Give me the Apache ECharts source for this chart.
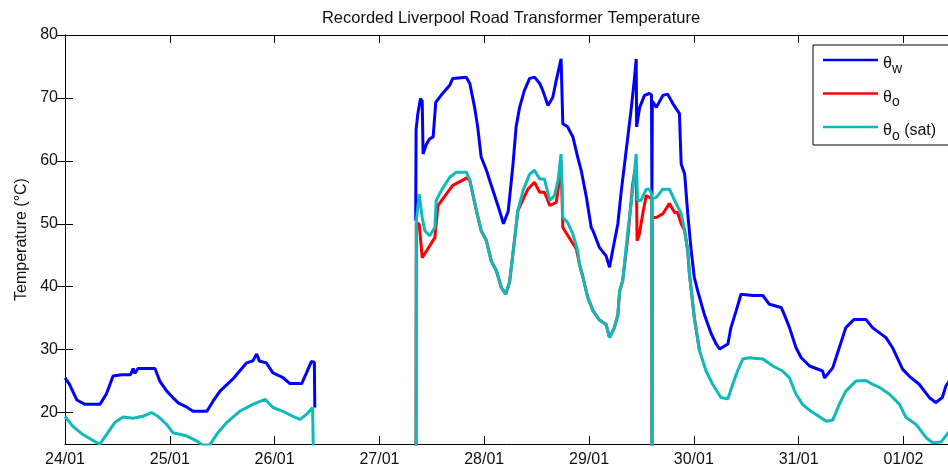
<!DOCTYPE html>
<html><head><meta charset="utf-8">
<script src="https://cdn.jsdelivr.net/npm/echarts@6/dist/echarts.min.js"></script>
<style>html,body{margin:0;padding:0;background:#fff}#c{width:948px;height:469px}</style>
</head><body><div id="c"></div>
<script>
const chartTitle = 'Recorded Liverpool Road Transformer Temperature';
const yAxisName = 'Temperature (°C)';
const dayLabels = ['24/01','25/01','26/01','27/01','28/01','29/01','30/01','31/01','01/02'];
const yTicks = [20,30,40,50,60,70,80];
const seriesNames = ['θw','θo','θo (sat)'];

// hours since 24/01 00:00 ; null = no data
const wHours = [0,1,2.7,4.6,8,9.5,11,13,15,15.6,16,16.7,20.6,21.7,23.3,24.8,26,27.8,29.3,32.5,33.9,35.5,38.4,41.6,43,43.9,44.5,46.1,47.6,49.2,50,51.5,54.2,55.3,56.4,57.1,57.2,
  68,
  80.3,80.4,80.8,81.4,81.8,82.0,82.8,83.5,84.3,84.9,86.2,88.1,88.8,91.9,92.7,93.8,94.5,95.3,96.5,98.0,99.5,100.4,101.5,102.6,103.3,104.1,105.2,106.4,107.5,108.7,109.4,110.6,111.7,112.5,113.6,114.0,115.1,116.3,117.4,118.2,119.4,120.5,120.9,122.4,123.9,124.7,125.4,126.6,127.4,128.5,129.7,130.4,130.8,130.9,131.6,132.7,133.8,134.3,134.4,134.5,135.4,136.9,138.0,139.2,140.7,141.1,141.9,142.6,143.4,144.1,144.9,146.4,148.0,149.1,149.9,151.8,152.5,153.7,154.8,157.5,159.8,161.3,164.0,164.7,165.9,167.4,168.6,170.5,173.5,173.9,175.8,177.3,178.8,180.7,183.4,184.9,188.0,189.5,191.8,193.3,195.6,197.9,199.4,200.9,201.7,202.5];
const wTemp = [25.5,24.5,22,21.3,21.3,23,25.8,26,26,27,26.2,27,27,25,23.4,22.3,21.5,20.9,20.2,20.2,21.8,23.4,25.3,27.9,28.2,29.3,28.2,27.9,26.3,25.8,25.5,24.6,24.6,26.3,28.1,28,20.8,
  null,
  50.5,65,67.5,69.9,69.5,61.1,62.7,63.5,63.8,69.3,70.5,72,73.1,73.3,72.3,68.5,65.4,60.6,58.5,55.3,52.1,50,52,59.5,65.4,68.5,71.2,73.1,73.3,72.3,71.2,68.8,70.1,72.8,76.2,65.9,65.4,63.8,60.6,58.5,54.2,49.4,48.9,46.2,44.9,43.1,45.7,50,55.3,61.6,68.5,73.1,76.2,65.4,68.5,70.4,70.7,70.5,54.5,69.5,68.5,70.4,70.6,69.1,67.5,59.5,57.9,51.6,45.7,41.5,39.3,35.6,32.5,30.9,30.1,30.9,33.5,36.2,38.8,38.6,38.6,37.2,36.7,35.6,33.5,30.3,28.7,27.4,26.6,25.5,27.1,30.3,33.5,34.8,34.8,33.5,31.9,30.3,26.9,25.8,24.5,22.4,21.6,22.4,24.2,25];

const oHours = [80.35,80.45,81.1,81.8,82.8,84.7,85.4,87.3,88.8,91.5,92.0,92.7,94.2,95.3,96.5,97.6,98.8,99.9,100.9,101.8,103.0,103.7,104.1,106.0,107.5,108.7,109.8,111.0,112.5,113.3,113.6,114.0,114.8,115.9,117.1,117.8,118.6,119.7,120.9,122.4,123.9,124.7,125.8,126.6,127.0,127.7,128.9,130.0,130.4,130.8,131.0,131.5,132.3,133.1,133.8,134.35,134.4,134.5,135.4,136.9,138.4,139.6,140.3,141.1,141.9,142.6,143.0,144.1,145.3];
const oTemp = [0,50,50,44.6,45.7,47.8,52.9,54.7,56.1,57.1,57.3,56.9,52.1,48.9,47.3,44.1,42.5,39.9,38.8,40.7,47.8,52.1,52.1,55.5,56.6,55,55,52.9,53.4,57.4,60,49.4,48.5,47.3,46,43.6,41.5,38.3,36.2,34.7,34,31.9,33.5,35.5,39.3,40.9,48,56.3,58,59,47.3,48.3,51.6,54.5,54.2,54,0,51,51,51.6,53.2,51.8,51.8,50,48.9,45.7,42,35.1,29.8];

const satHours = [0,1.8,4.1,7.3,8,9.5,11.4,13.3,15.6,17.8,19.8,21.3,23.3,24.7,27.8,30.1,31.6,33.2,34.7,37,40,43,45.8,47.6,49.9,52.2,53.8,55.3,56.7,57.1,57.2,
  68,
  80.35,80.45,81.1,81.8,82.4,83.5,84.7,85.0,86.2,88.1,89.6,91.9,92.7,94.2,95.3,96.5,97.6,98.8,99.9,100.9,101.8,103.0,103.7,104.9,106.4,107.5,108.7,109.8,111.0,112.1,112.9,113.6,114.0,115.1,116.3,117.4,117.8,118.6,119.7,120.9,122.4,123.9,124.7,125.8,126.6,127.0,127.7,128.9,130.0,130.8,131.1,131.9,133.1,133.8,134.35,134.4,134.5,135.4,136.9,138.4,139.6,141.1,141.9,142.6,143.0,144.1,145.3,146.8,148.3,150.2,151.8,152.9,154.0,155.2,156.7,159.8,162.1,164.3,165.9,167.4,168.9,170.8,172.0,174.3,175.8,177.3,178.8,181.1,183.4,184.9,186.5,188.8,191.1,192.6,194.9,197.2,198.7,200.6,201.7,202.5];
const satTemp = [19.4,17.8,16.5,15.2,15,16.5,18.4,19.3,19.1,19.4,20,19.4,18.1,16.8,16.3,15.5,14.8,14.9,16.5,18.4,20.2,21.3,22.1,20.8,20.2,19.4,18.9,19.7,20.8,20.8,0,
  null,
  0,50.5,54.7,51,48.9,48.1,49.4,53.7,55.3,57.4,58.2,58.2,56.9,52.1,48.9,47.3,44.1,42.5,39.9,38.8,40.7,47.8,52.1,55.3,57.9,58.5,57.1,57.1,53.7,54.5,56.9,61.1,51,50.2,48.4,45.7,43.6,41.5,38.3,36.2,34.7,34,31.9,33.5,35.5,39.3,40.9,48.9,55.3,61.1,53.7,53.7,55.5,55.5,54.7,0,54,54.2,55.5,55.5,53.7,51.6,48.9,45.7,42,35.1,29.8,26.6,24.5,22.4,22.2,24.5,26.6,28.5,28.7,28.5,27.4,26.6,25.5,22.9,21.3,20.2,19.7,18.6,18.8,21.3,23.4,25,25.1,24.5,24,22.9,21.3,19.2,18.1,16,15.2,15.3,16.3,17];

const colors = ['#0000ff','#ff0000','#10baba'];
function pairs(h, v) { return h.map((x, i) => [x, v[i]]); }
const font = 'Liberation Sans, Arial, Helvetica, sans-serif';
const legendText = {
  'θw': '{t|θ}{s|w}',
  'θo': '{t|θ}{s|o}',
  'θo (sat)': '{t|θ}{s|o}{t| (sat)}'
};

const chart = echarts.init(document.getElementById('c'), null, {renderer: 'canvas'});
const axisLineStyle = {color: '#000', width: 1};
chart.setOption({
  animation: false,
  backgroundColor: '#fff',
  title: {
    text: chartTitle, left: 506, top: 5, textAlign: 'center',
    textStyle: {fontSize: 16.5, fontWeight: 'normal', color: '#111', fontFamily: font}
  },
  grid: {left: 65, top: 35, right: -1, bottom: 25},
  legend: {
    orient: 'vertical', left: 813, top: 45,
    padding: [7, 40, 2, 10], itemGap: 9.5, itemWidth: 55, itemHeight: 2.5,
    icon: 'rect',
    backgroundColor: '#fff', borderColor: '#000', borderWidth: 1, borderRadius: 0,
    data: seriesNames,
    formatter: n => legendText[n],
    textStyle: {
      color: '#111', fontFamily: font,
      rich: {
        t: {fontSize: 16, fontFamily: font, color: '#111', lineHeight: 16, padding: [4, 0, 4, 0], verticalAlign: 'top'},
        s: {fontSize: 14, fontFamily: font, color: '#111', lineHeight: 14, padding: [10, 0, 0, 0], verticalAlign: 'top'}
      }
    }
  },
  xAxis: [{
    type: 'value', min: 0, max: 202.2, interval: 24,
    axisLine: {lineStyle: axisLineStyle},
    axisTick: {inside: true, length: 8, lineStyle: axisLineStyle},
    axisLabel: {formatter: v => dayLabels[Math.round(v / 24)] || '', color: '#111', fontSize: 16, fontFamily: font, margin: 8, showMaxLabel: false},
    splitLine: {show: false}
  }, {
    type: 'value', position: 'top', min: 0, max: 202.2, interval: 24,
    axisLine: {lineStyle: axisLineStyle},
    axisTick: {inside: true, length: 8, lineStyle: axisLineStyle},
    axisLabel: {show: false}, splitLine: {show: false}
  }],
  yAxis: [{
    type: 'value', min: 15, max: 80,
    name: yAxisName, nameLocation: 'middle', nameGap: 35,
    nameTextStyle: {fontSize: 16, color: '#111', fontFamily: font},
    axisLine: {show: true, lineStyle: axisLineStyle},
    axisTick: {show: true, inside: true, length: 8, lineStyle: axisLineStyle, customValues: yTicks},
    axisLabel: {color: '#111', fontSize: 16, fontFamily: font, margin: 7, customValues: yTicks},
    splitLine: {show: false}
  }, {
    type: 'value', position: 'right', min: 15, max: 80,
    axisLine: {show: true, lineStyle: axisLineStyle},
    axisTick: {show: true, inside: true, length: 8, lineStyle: axisLineStyle, customValues: yTicks},
    axisLabel: {show: false, customValues: yTicks},
    splitLine: {show: false}
  }],
  series: [
    {name: seriesNames[0], type: 'line', data: pairs(wHours, wTemp), symbol: 'none', connectNulls: false, clip: true,
      lineStyle: {color: colors[0], width: 3}, itemStyle: {color: colors[0]}},
    {name: seriesNames[1], type: 'line', data: pairs(oHours, oTemp), symbol: 'none', connectNulls: false, clip: true,
      lineStyle: {color: colors[1], width: 3}, itemStyle: {color: colors[1]}},
    {name: seriesNames[2], type: 'line', data: pairs(satHours, satTemp), symbol: 'none', connectNulls: false, clip: true,
      lineStyle: {color: colors[2], width: 3}, itemStyle: {color: colors[2]}}
  ]
});
</script>
</body></html>
